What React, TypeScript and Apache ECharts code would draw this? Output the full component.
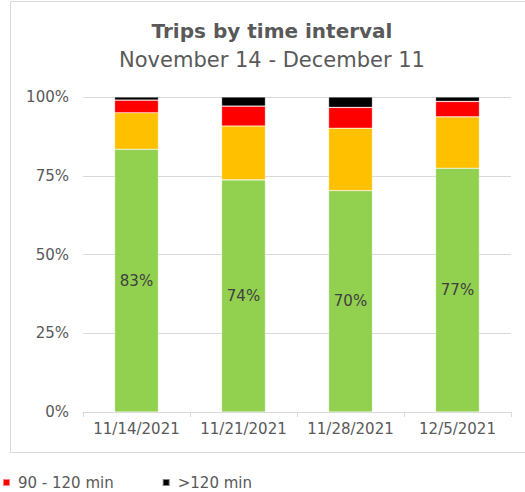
import React, { useEffect, useRef } from "react";
import * as echarts from "echarts";

const categories = ["11/14/2021", "11/21/2021", "11/28/2021", "12/5/2021"];
const under60 = [83.4, 73.7, 70.3, 77.4];
const from60to90 = [11.6, 17.1, 19.8, 16.3];
const from90to120 = [4.0, 6.3, 6.6, 4.9];
const over120 = [1.0, 2.9, 3.3, 1.4];
const yTicks = [0, 25, 50, 75, 100];

const FONT = "DejaVu Sans, Verdana, sans-serif";
const GRAY = "#595959";

export default function App() {
  const ref = useRef<HTMLDivElement>(null);
  useEffect(() => {
    document.body.style.margin = "0";
    const chart = echarts.init(ref.current!, null, { renderer: "svg" });
    const mkSeries = (name: string, data: number[], color: string, label = false) => ({
      name,
      type: "bar",
      stack: "total",
      data,
      barWidth: "41%",
      itemStyle: { color, borderColor: "rgba(255,255,255,0.5)", borderWidth: 0.6 },
      label: label
        ? {
            show: true,
            position: "inside",
            formatter: (p: any) => Math.round(p.value) + "%",
            color: "#404040",
            fontSize: 15,
            fontFamily: FONT,
          }
        : { show: false },
    });
    chart.setOption({
      animation: false,
      textStyle: { fontFamily: FONT },
      graphic: [
        {
          type: "rect",
          shape: { x: 10.5, y: 1.5, width: 530, height: 451 },
          style: { fill: "none", stroke: "#d9d9d9", lineWidth: 1 },
          silent: true,
          z: -10,
        },
        {
          type: "text",
          x: 272,
          y: 31,
          style: {
            text: "Trips by time interval",
            fontFamily: FONT,
            fontWeight: "bold",
            fontSize: 20,
            fill: GRAY,
            textAlign: "center",
            textVerticalAlign: "middle",
          },
        },
        {
          type: "text",
          x: 272,
          y: 60,
          style: {
            text: "November 14 - December 11",
            fontFamily: FONT,
            fontSize: 21,
            fill: GRAY,
            textAlign: "center",
            textVerticalAlign: "middle",
          },
        },
      ],
      legend: {
        data: ["90 - 120 min", ">120 min"],
        left: 2,
        top: 475,
        padding: 0,
        itemWidth: 7,
        itemHeight: 7,
        itemGap: 48,
        icon: "rect",
        textStyle: { color: GRAY, fontSize: 15, fontFamily: FONT, padding: [0, 0, 0, 3] },
      },
      grid: { left: 83, right: 14, top: 97, bottom: 80 },
      xAxis: {
        type: "category",
        data: categories,
        axisLine: { lineStyle: { color: "#d9d9d9" } },
        axisTick: { show: true, lineStyle: { color: "#d9d9d9" }, length: 5 },
        axisLabel: { color: GRAY, fontSize: 15, fontFamily: FONT, margin: 9, interval: 0 },
      },
      yAxis: {
        type: "value",
        min: 0,
        max: 100,
        interval: 25,
        axisLine: { show: false },
        axisTick: { show: false },
        splitLine: { lineStyle: { color: "#d9d9d9", width: 1 } },
        axisLabel: {
          color: GRAY,
          fontSize: 15,
          fontFamily: FONT,
          margin: 14,
          formatter: (v: number) => (yTicks.includes(v) ? v + "%" : ""),
        },
      },
      series: [
        mkSeries("<60 min", under60, "#92D050", true),
        mkSeries("60 - 90 min", from60to90, "#FFC000"),
        mkSeries("90 - 120 min", from90to120, "#FF0000"),
        mkSeries(">120 min", over120, "#000000"),
      ],
    });
    return () => chart.dispose();
  }, []);
  return (
    <div
      ref={ref}
      style={{ position: "absolute", left: 0, top: 0, width: 525, height: 492, overflow: "hidden" }}
    />
  );
}
